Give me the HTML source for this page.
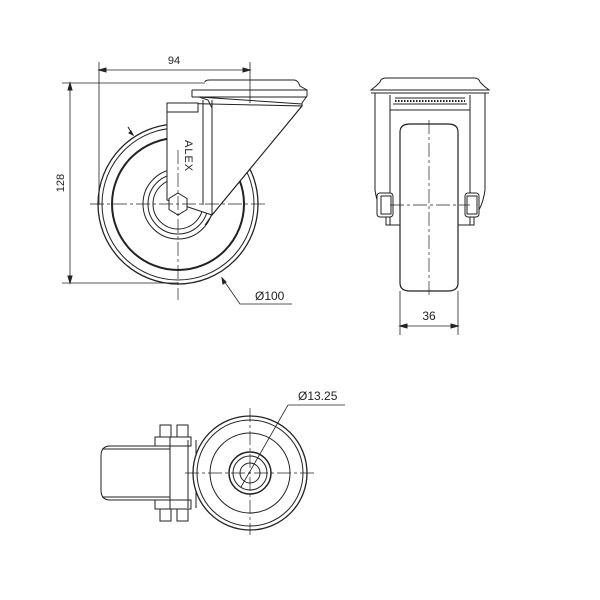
<!DOCTYPE html><html><head><style>body{margin:0;background:#fff}svg{display:block}text{font-family:"Liberation Sans",sans-serif;fill:#222}</style></head><body>
<svg width="600" height="600" viewBox="0 0 600 600" fill="none" stroke="#222" stroke-width="1">
<!-- side view -->
<g>
<line x1="99" y1="62" x2="99" y2="205" stroke-width=".8"/><line x1="250" y1="62" x2="250" y2="103" stroke-width=".8"/>
<line x1="99" y1="70" x2="250" y2="70" stroke-width=".8"/><path d="M99 70l7-2v4zM250 70l-7-2v4z" fill="#222"/>
<text x="174" y="64" font-size="11" text-anchor="middle" stroke="none">94</text>
<line x1="62" y1="83" x2="205" y2="83" stroke-width=".8"/><line x1="62" y1="283" x2="178" y2="283" stroke-width=".8"/>
<line x1="70" y1="83" x2="70" y2="283" stroke-width=".8"/><path d="M70 83l-2 7h4zM70 283l-2-7h4z" fill="#222"/>
<text x="64" y="183" font-size="11" text-anchor="middle" stroke="none" transform="rotate(-90 64 183)">128</text>
<circle cx="178" cy="204" r="80" stroke-width="1.3"/>
<circle cx="178" cy="204" r="76"/>
<circle cx="178" cy="204" r="66" stroke-width="2"/>
<circle cx="178" cy="204" r="35"/><circle cx="178" cy="204" r="30"/><circle cx="178" cy="204" r="25"/>
<path d="M167 103 L167 200 L212 215 L302 106 Z" fill="#fff"/>
<path d="M205 82 Q205 80 210 80 L294 80 Q298 80 300 86 L307 90 L307 96 L302 103 L302 106 L212 215 L205 225" />
<line x1="192" y1="90" x2="307" y2="90"/><line x1="192" y1="97" x2="307" y2="97"/><line x1="192" y1="90" x2="192" y2="97"/>
<line x1="199" y1="97" x2="302" y2="104"/>
<path d="M167 103 L198 103 L198 112 L167 112 Z" fill="#fff"/>
<line x1="167" y1="103" x2="167" y2="200"/><line x1="203" y1="100" x2="203" y2="205"/><line x1="212" y1="100" x2="212" y2="215"/>
<path d="M199 97 L208 100 L212 108" />
<polygon points="178,193 187,198.5 187,209.5 178,215 169,209.5 169,198.5" fill="#fff"/>
<text x="185" y="140" font-size="11" stroke="none" transform="rotate(90 185 140)" letter-spacing="1">ALEX</text>
<line x1="90" y1="204" x2="265" y2="204" stroke-dasharray="14,3,3,3" stroke-width=".7"/>
<line x1="178" y1="150" x2="178" y2="300" stroke-dasharray="14,3,3,3" stroke-width=".7"/>
<path d="M128 127 L133 135" /><path d="M133 135l-4-2 2-2z" fill="#222"/>
<path d="M222 278 L240 304 L292 304" stroke-width=".8"/><path d="M222 278l1 6 3-2z" fill="#222"/>
<text x="255" y="300" font-size="12" stroke="none">Ø100</text>
</g>
<!-- front view -->
<g>
<path d="M380 82 Q381 78 386 78 L474 78 Q479 78 480 82 L484 86 L489 90 L371 90 L376 86 Z"/>
<line x1="371" y1="93" x2="489" y2="93"/>
<path d="M375 93 L375 190 Q378 210 386 215 L386 225 L474 225 L474 215 Q482 210 485 190 L485 93"/>
<path d="M390 95 L390 225 M470 95 L470 225 M395 98 L465 98 M393 104 L467 104 M390 110 L470 110"/>
<line x1="395" y1="101" x2="465" y2="101" stroke-dasharray="1.5,1.5" stroke-width="2"/>
<path d="M400 132 Q400 124 410 124 L448 124 Q458 124 458 132 L458 283 Q458 291 448 291 L410 291 Q400 291 400 283 Z" stroke-width="1.2" fill="#fff"/>
<rect x="377" y="193" width="16" height="24" rx="3" fill="#fff"/><rect x="381" y="196" width="10" height="18"/>
<rect x="465" y="193" width="14" height="24" rx="3" fill="#fff"/><rect x="467" y="196" width="10" height="18"/>
<line x1="429" y1="120" x2="429" y2="295" stroke-dasharray="14,3,3,3" stroke-width=".7"/>
<line x1="390" y1="205" x2="470" y2="205" stroke-dasharray="14,3,3,3" stroke-width=".7"/>
<line x1="400" y1="291" x2="400" y2="335" stroke-width=".8"/><line x1="458" y1="291" x2="458" y2="335" stroke-width=".8"/>
<line x1="400" y1="326" x2="458" y2="326" stroke-width=".8"/><path d="M400 326l7-2v4zM458 326l-7-2v4z" fill="#222"/>
<text x="429" y="320" font-size="12" text-anchor="middle" stroke="none">36</text>
</g>
<!-- bottom view -->
<g>
<path d="M170 446 L110 446 Q101 446 101 456 L101 490 Q101 500 110 500 L170 500"/>
<line x1="102" y1="449" x2="170" y2="449"/><line x1="102" y1="497" x2="170" y2="497"/>
<rect x="155" y="437" width="36" height="9"/><rect x="155" y="500" width="36" height="9"/>
<rect x="160" y="425" width="11" height="12"/><rect x="177" y="425" width="11" height="12"/>
<rect x="160" y="509" width="11" height="12"/><rect x="177" y="509" width="11" height="12"/>
<line x1="170" y1="437" x2="170" y2="509"/><line x1="188" y1="440" x2="188" y2="508"/><line x1="196" y1="440" x2="196" y2="508"/>
<circle cx="250" cy="473" r="57" stroke-width="1.3" fill="#fff"/><circle cx="250" cy="473" r="53"/>
<circle cx="250" cy="473" r="40"/><circle cx="250" cy="473" r="21" stroke-width="1.5"/><circle cx="250" cy="473" r="17"/><circle cx="250" cy="473" r="10"/>
<line x1="185" y1="473" x2="315" y2="473" stroke-dasharray="14,3,3,3" stroke-width=".7"/>
<line x1="250" y1="408" x2="250" y2="535" stroke-dasharray="14,3,3,3" stroke-width=".7"/>
<path d="M241 487 L288 405 L345 405" stroke-width=".8"/>
<text x="298" y="400" font-size="12" stroke="none">Ø13.25</text>
</g>
</svg></body></html>
